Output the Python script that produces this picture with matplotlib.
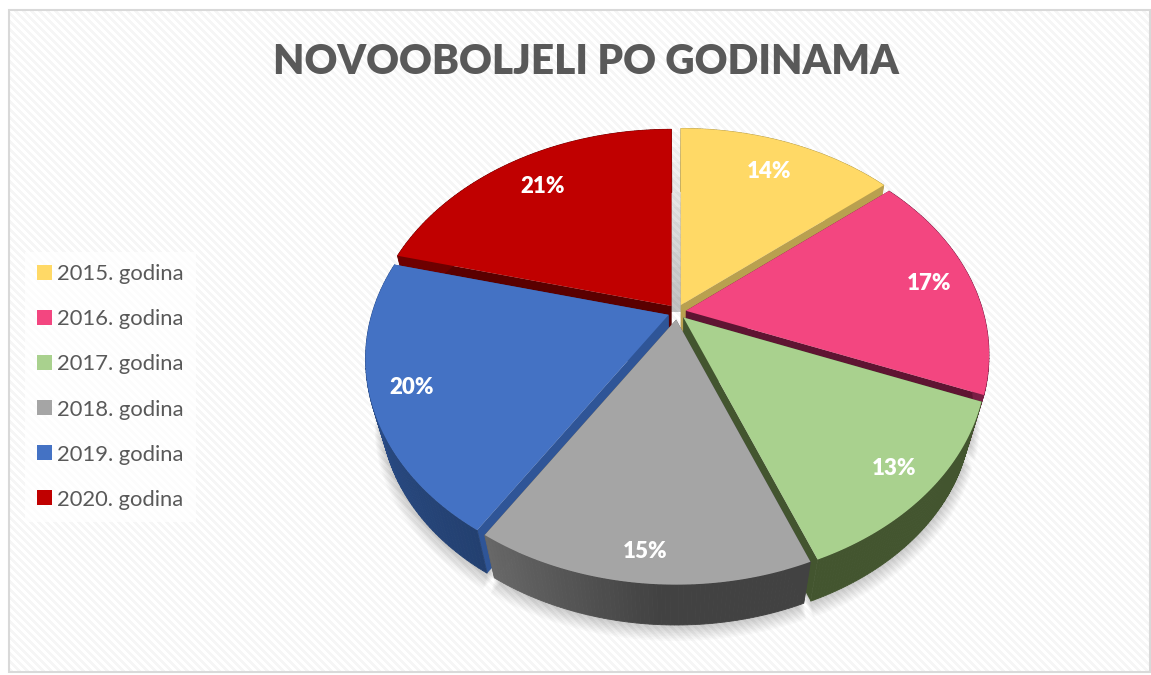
import numpy as np
import matplotlib
matplotlib.use('Agg')
import matplotlib.pyplot as plt
from matplotlib.colors import to_rgb
from matplotlib.patches import Patch, Rectangle

categories = ['2015. godina', '2016. godina', '2017. godina', '2018. godina', '2019. godina', '2020. godina']
values = [14, 17, 13, 15, 20, 21]
colors = ['#FFD966', '#F34680', '#A9D18E', '#A5A5A5', '#4472C4', '#C00000']
cut_colors = ['#B9A04F', '#5F1432', '#43552F', '#444444', '#2F5597', '#5A0000']
wall_start = ['#B9A04F', '#7A1F45', '#43552F', '#424242', '#234070', '#6E0000']
wall_end = ['#B9A04F', '#7A1F45', '#43552F', '#686868', '#2F5597', '#6E0000']
label_radius = [0.80, 0.85, 0.88, 0.90, 0.87, 0.80]
title = 'NOVOOBOLJELI PO GODINAMA'

# pie geometry, in pixels of the picture
cx, cy = 677, 312
rx, ry = 297, 212
persp = 0.2
explode = 9
depth = 54
bottom_scale = 0.95


# unit disc to picture, with the far side smaller
def project(x, y, off):
    den = 1 + persp * y
    return cx + off[0] + rx * x / den, cy + off[1] - ry * y / den


def drop(px, py):
    return cx + (px - cx) * bottom_scale, cy + (py - cy) * bottom_scale + depth


def slice_outline(a0, a1, off):
    ang = np.linspace(a0, a1, 80)
    return project(np.sin(ang), np.cos(ang), off)


fig = plt.figure(figsize=(11.51, 6.75), dpi=100)
ax = fig.add_axes([0, 0, 1, 1])
ax.set_xlim(0, 1151)
ax.set_ylim(675, 0)
ax.axis('off')

# striped chart background
yy, xx = np.mgrid[0:662, 0:1142]
stripes = ((xx - yy) % 8 < 4).astype(float)
ax.imshow(stripes, cmap=matplotlib.colors.ListedColormap(['#F6F6F6', '#FFFFFF']), extent=(9, 1151, 672, 10),
          interpolation='nearest', aspect='auto', zorder=0)
ax.set_xlim(0, 1151)
ax.set_ylim(675, 0)
ax.add_patch(Rectangle((9, 10), 1141, 662, fill=False, edgecolor='#D9D9D9', lw=1.5, zorder=1))

ax.text(586, 62.5, title, ha='center', va='center', fontsize=29.2, fontweight='heavy', family='Lato', color='#595959')

# angles from the values, clockwise from the top
edges = np.radians(np.cumsum([0] + values) * 3.6)
mids = (edges[:-1] + edges[1:]) / 2
offsets = [(explode * np.sin(m), -explode * 0.85 * np.cos(m)) for m in mids]

# soft shadow below the pie
for grow in range(1, 11):
    for i in range(len(values)):
        px, py = slice_outline(edges[i], edges[i + 1], offsets[i])
        bx, by = drop(px, py)
        bx = np.append(bx, cx + offsets[i][0])
        by = np.append(by, cy + offsets[i][1] + depth)
        ax.fill(cx + (bx - cx) * (1 + grow * 0.0022), by + grow * 1.6, color='k', alpha=0.02, lw=0, zorder=2)

# shadow seen through the gap at the back of the pie
for h in range(15, 190, 15):
    ax.fill([cx - 8, cx + 8, cx + 8, cx - 8], [cy, cy, cy - h, cy - h], color='k', alpha=0.018, lw=0, zorder=2)

# back slices first so the front ones sit on top of them
z = 3
for i in [0, 5, 1, 4, 2, 3]:
    off = offsets[i]
    px, py = slice_outline(edges[i], edges[i + 1], off)
    apex_x, apex_y = cx + off[0], cy + off[1]
    bx, by = drop(px, py)
    ab_x, ab_y = drop(apex_x, apex_y)

    # cut faces
    ax.fill([apex_x, px[0], bx[0], ab_x], [apex_y, py[0], by[0], ab_y], color=cut_colors[i], lw=0, zorder=z)
    ax.fill([apex_x, px[-1], bx[-1], ab_x], [apex_y, py[-1], by[-1], ab_y], color=cut_colors[i], lw=0, zorder=z)

    # outer wall, shaded along the arc
    c0, c1 = np.array(to_rgb(wall_start[i])), np.array(to_rgb(wall_end[i]))
    for j in range(len(px) - 1):
        t = max(0, (j / (len(px) - 2) - 0.45) / 0.55) if i == 3 else j / (len(px) - 2)
        col = c0 + (c1 - c0) * t
        ax.fill([px[j], px[j + 1], bx[j + 1], bx[j]], [py[j], py[j + 1], by[j + 1], by[j]],
                color=col, lw=0.6, zorder=z)

    # top face
    ax.fill(np.append(px, apex_x), np.append(py, apex_y), color=colors[i], lw=0, zorder=z + 0.5)
    z += 1

# percent labels on the top faces
for i, v in enumerate(values):
    r = label_radius[i]
    lx, ly = project(r * np.sin(mids[i]), r * np.cos(mids[i]), offsets[i])
    ax.text(lx, ly, f'{v}%', ha='center', va='center', color='white', fontsize=16, fontweight='heavy',
            family='Lato', zorder=20)

handles = [Patch(facecolor=c, edgecolor='none') for c in colors]
leg = ax.legend(handles, categories, loc='center left', bbox_to_anchor=(25 / 1151, 1 - 387 / 675),
                bbox_transform=fig.transFigure, frameon=True, framealpha=0.75, edgecolor='none', facecolor='white',
                fancybox=False, handlelength=0.68, handleheight=0.68, handletextpad=0.23, labelspacing=1.14,
                borderpad=0.55, borderaxespad=0, prop={'family': 'Lato', 'size': 15.8}, labelcolor='#595959')
leg.set_zorder(25)

fig.savefig('out.png', dpi=100)
